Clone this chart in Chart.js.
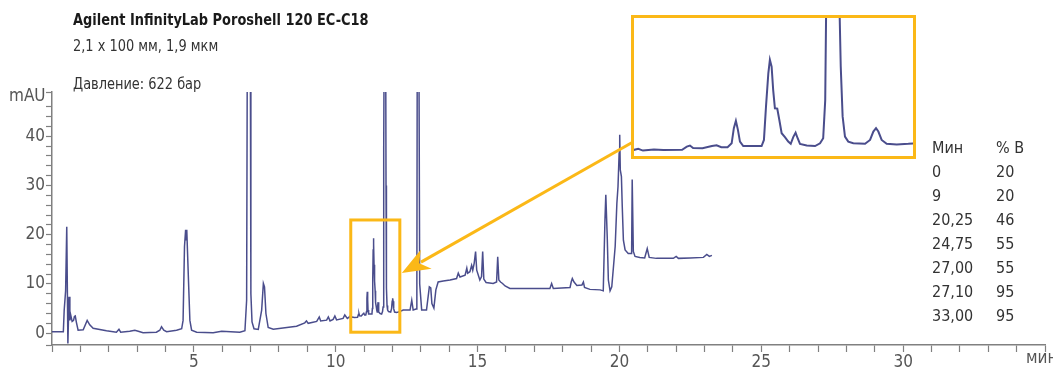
<!DOCTYPE html>
<html>
<head>
<meta charset="utf-8">
<script src="https://cdn.jsdelivr.net/npm/chart.js@4.4.1/dist/chart.umd.min.js"></script>
<style>
  html, body { margin: 0; padding: 0; background: #fff; }
  #wrap { position: relative; width: 1053px; height: 373px; overflow: hidden; }
  #main { position: absolute; left: 0; top: 0; }
  .txt { position: absolute; white-space: nowrap; color: #333; font-family: 'Liberation Sans Narrow', 'DejaVu Sans Condensed', 'Roboto Condensed', sans-serif; font-size: 16px; line-height: 1; }
  .head { transform: scaleX(0.9); transform-origin: 0 0; }
  .title { font-weight: bold; color: #1a1a1a; }
  #inset { position: absolute; left: 631px; top: 15px; width: 285px; height: 144px; box-sizing: border-box; border: 3px solid #fbb817; }
  #zoom { position: absolute; left: 0; top: 0; }
</style>
</head>
<body>
<div id="wrap">
  <canvas id="main" width="1053" height="373"></canvas>
  <div class="txt head title" style="left:73px;top:12px;">Agilent InfinityLab Poroshell 120 EC-C18</div>
  <div class="txt head" style="left:73px;top:38px;">2,1 x 100 мм, 1,9 мкм</div>
  <div class="txt head" style="left:73px;top:76px;">Давление: 622 бар</div>
  <div class="txt" style="left:9px;top:87px;color:#555;font-size:17px;">mAU</div>
  <div class="txt" style="left:1026px;top:349px;color:#555;font-size:17px;">мин</div>
  <div id="inset"><canvas id="zoom" width="279" height="138"></canvas></div>
  <div id="table"></div>
</div>
<script>
// retention time (min) and absorbance (mAU)
const timeMin = [
  0.00, 0.40, 0.43, 0.48, 0.52, 0.56, 0.60, 0.63, 0.66, 0.71, 0.76, 0.79, 0.82, 0.86, 0.92,
  1.10, 1.24, 1.33, 1.45, 1.92, 2.27, 2.36, 2.42, 2.74, 2.92, 3.04, 3.21, 3.68, 3.80, 3.86,
  3.94, 4.04, 4.39, 4.57, 4.62, 4.67, 4.71, 4.73, 4.75, 4.81, 4.86, 4.92, 5.10, 5.68, 5.98,
  6.62, 6.80, 6.86, 6.885, 6.99, 7.01, 7.05, 7.12, 7.27, 7.39, 7.45, 7.49, 7.54, 7.62, 7.80,
  8.62, 8.91, 8.97, 9.03, 9.33, 9.42, 9.47, 9.68, 9.74, 9.80, 9.91, 9.97, 10.03, 10.26, 10.32,
  10.41, 10.46, 10.49, 10.52, 10.59, 10.65, 10.77, 10.80, 10.82, 10.84, 10.90, 10.96, 10.99, 11.02, 11.06,
  11.086, 11.10, 11.113, 11.126, 11.139, 11.16, 11.224, 11.277, 11.292, 11.305, 11.32, 11.33, 11.341, 11.351, 11.362,
  11.377, 11.39, 11.405, 11.426, 11.447, 11.463, 11.479, 11.494, 11.507, 11.522, 11.565, 11.618, 11.65, 11.67, 11.683,
  11.692, 11.70, 11.71, 11.76, 11.773, 11.782, 11.794, 11.809, 11.83, 11.862, 11.937, 11.969, 11.99, 12.007, 12.022,
  12.043, 12.075, 12.139, 12.213, 12.38, 12.62, 12.68, 12.73, 12.83, 12.86, 12.875, 12.93, 12.96, 13.03, 13.20,
  13.30, 13.35, 13.39, 13.46, 13.53, 13.61, 13.79, 14.03, 14.26, 14.32, 14.38, 14.56, 14.62, 14.65, 14.73,
  14.79, 14.83, 14.88, 14.93, 14.97, 15.08, 15.14, 15.18, 15.22, 15.30, 15.55, 15.67, 15.71, 15.75, 15.81,
  15.88, 15.97, 16.14, 16.85, 17.55, 17.61, 17.67, 18.26, 18.30, 18.34, 18.40, 18.50, 18.68, 18.73, 18.77,
  18.96, 19.32, 19.43, 19.49, 19.52, 19.57, 19.61, 19.67, 19.73, 19.79, 19.85, 19.91, 19.95, 19.99, 20.01,
  20.03, 20.07, 20.10, 20.14, 20.20, 20.31, 20.43, 20.45, 20.49, 20.55, 20.72, 20.89, 20.98, 21.05, 21.30,
  21.90, 22.00, 22.08, 22.49, 22.96, 23.08, 23.17, 23.26
];
const mAU = [
  0.3, 0.3, 4.7, 8.6, 21.6, -2.1, 7.4, 2.6, 3.7, 2.4, 2.6, 3.4, 3.5, 2.2, 0.6,
  0.7, 2.6, 1.7, 1.0, 0.5, 0.2, 0.8, 0.2, 0.4, 0.6, 0.4, 0.1, 0.2, 0.6, 1.3,
  0.6, 0.3, 0.6, 0.9, 2.6, 17.6, 21.0, 19.0, 21.0, 10.8, 2.6, 0.6, 0.2, 0.1, 0.4,
  0.2, 0.5, 6.7, 60, 60, 8.0, 2.3, 0.9, 0.75, 4.7, 10.1, 9.4, 4.0, 1.15, 0.8,
  1.4, 2.1, 2.5, 2.0, 2.4, 3.3, 2.5, 2.65, 3.3, 2.5, 2.8, 3.5, 2.7, 3.0, 3.7,
  3.0, 3.2, 3.4, 3.1, 3.3, 3.2, 3.25, 3.8, 4.0, 3.55, 3.5, 3.9, 4.05, 3.7, 3.7,
  4.4, 7.1, 8.4, 6.8, 4.7, 3.9, 3.9, 3.9, 5.0, 10.9, 16.9, 19.3, 18.1, 13.9, 10.65,
  10.6, 8.6, 6.2, 5.5, 4.7, 4.3, 5.5, 6.3, 5.3, 4.3, 4.0, 3.9, 4.4, 5.3, 12.1,
  37, 37.5, 62, 62, 30, 18.1, 9.2, 5.6, 4.7, 4.4, 4.3, 5.0, 6.5, 7.1, 6.5,
  5.0, 4.3, 4.2, 4.3, 4.7, 4.7, 6.7, 4.7, 4.9, 8.0, 62, 62, 10, 4.7, 4.7,
  9.4, 9.2, 6.0, 5.1, 8.8, 10.4, 10.6, 10.8, 11.1, 12.2, 11.4, 11.8, 13.2, 12.2, 12.5,
  13.8, 12.8, 14.2, 16.6, 12.8, 10.8, 11.5, 16.6, 11.0, 10.3, 10.1, 10.4, 15.5, 10.8, 10.4,
  10.1, 9.6, 9.1, 9.1, 9.1, 10.1, 9.1, 9.3, 10.4, 11.1, 10.4, 9.7, 9.8, 10.4, 9.3,
  8.9, 8.8, 8.6, 23.0, 28.1, 19.6, 10.8, 8.6, 9.4, 13.5, 17.6, 26.4, 29.8, 36.6, 40.3,
  33.2, 31.8, 25.7, 18.9, 16.9, 16.2, 16.2, 31.2, 16.6, 15.6, 15.4, 15.3, 17.2, 15.4, 15.2,
  15.2, 15.6, 15.2, 15.3, 15.4, 16.0, 15.6, 15.8
];

// gradient table
const gradMin = ['0', '9', '20,25', '24,75', '27,00', '27,10', '33,00'];
const gradB = [20, 20, 46, 55, 55, 95, 95];

// zoomed window (min, mAU)
const zoomX = [10.53, 12.26];
const zoomY = [0.2, 23];
const insetX = [10.463, 12.243];
const insetY = [2.13, 26.77];

const FONT = "'Liberation Sans Narrow', 'DejaVu Sans Condensed', 'Roboto Condensed', sans-serif";
const LINE = '#4a4d8c';
const ORANGE = '#fbb817';
const AXIS = '#808080';

const points = timeMin.map((t, i) => ({ x: t, y: mAU[i] }));

// table
const tbl = document.getElementById('table');
function addTxt(s, x, y) {
  const d = document.createElement('div');
  d.className = 'txt';
  d.style.left = x + 'px';
  d.style.top = y + 'px';
  d.textContent = s;
  tbl.appendChild(d);
}
addTxt('Мин', 932, 140);
addTxt('% B', 996, 140);
gradMin.forEach((m, i) => {
  addTxt(m, 932, 164 + i * 24);
  addTxt(String(gradB[i]), 996, 164 + i * 24);
});

const zoomBox = {
  id: 'zoomBox',
  afterDatasetsDraw(chart) {
    const { ctx, scales: { x, y } } = chart;
    const x0 = x.getPixelForValue(zoomX[0]), x1 = x.getPixelForValue(zoomX[1]);
    const y0 = y.getPixelForValue(zoomY[1]), y1 = y.getPixelForValue(zoomY[0]);
    ctx.save();
    ctx.strokeStyle = ORANGE;
    ctx.lineWidth = 3;
    ctx.strokeRect(x0, y0, x1 - x0, y1 - y0);

    // arrow from inset to the zoom box
    const tx = x1 + 2, ty = 273, sx = 633, sy = 142;
    const len = Math.hypot(sx - tx, sy - ty);
    const ux = (sx - tx) / len, uy = (sy - ty) / len;
    const bx = tx + ux * 24, by = ty + uy * 24;
    ctx.beginPath();
    ctx.moveTo(sx, sy);
    ctx.lineTo(bx - ux * 2, by - uy * 2);
    ctx.stroke();
    ctx.fillStyle = ORANGE;
    ctx.beginPath();
    ctx.moveTo(tx, ty);
    ctx.lineTo(bx - uy * 11 + ux * 4, by + ux * 11 + uy * 4);
    ctx.lineTo(bx - ux * 4, by - uy * 4);
    ctx.lineTo(bx + uy * 11 + ux * 4, by - ux * 11 + uy * 4);
    ctx.closePath();
    ctx.fill();
    ctx.restore();
  }
};

new Chart(document.getElementById('main').getContext('2d'), {
  type: 'line',
  data: {
    datasets: [{
      data: points,
      borderColor: LINE,
      borderWidth: 1.5,
      pointRadius: 0,
      tension: 0,
      fill: false
    }]
  },
  options: {
    responsive: false,
    animation: false,
    layout: { padding: { top: 92, right: 8, left: 0, bottom: 0 } },
    plugins: { legend: { display: false }, tooltip: { enabled: false } },
    scales: {
      x: {
        type: 'linear',
        min: 0,
        max: 35,
        border: { color: AXIS, width: 1.5 },
        grid: { drawOnChartArea: false, tickLength: 7, color: AXIS, tickWidth: 1.2 },
        ticks: {
          stepSize: 1,
          autoSkip: false,
          maxRotation: 0,
          padding: 0,
          color: '#555',
          font: { family: FONT, size: 17 },
          callback: v => (v > 0 && v % 5 === 0 && v < 35) ? String(v) : ''
        },
        afterFit: s => { s.height = 28; }
      },
      y: {
        min: -2.4,
        max: 49,
        border: { color: AXIS, width: 1.5 },
        grid: { drawOnChartArea: false, tickLength: 6, color: AXIS, tickWidth: 1.2 },
        ticks: {
          stepSize: 2,
          autoSkip: false,
          padding: 1,
          color: '#555',
          font: { family: FONT, size: 17 },
          callback: v => (v >= 0 && v % 10 === 0) ? String(v) : ''
        },
        afterFit: s => { s.width = 52; }
      }
    }
  },
  plugins: [zoomBox]
});

new Chart(document.getElementById('zoom').getContext('2d'), {
  type: 'line',
  data: {
    datasets: [{
      data: points,
      borderColor: LINE,
      borderWidth: 2,
      pointRadius: 0,
      tension: 0,
      fill: false
    }]
  },
  options: {
    responsive: false,
    animation: false,
    layout: { padding: 0 },
    plugins: { legend: { display: false }, tooltip: { enabled: false } },
    scales: {
      x: { type: 'linear', display: false, min: insetX[0], max: insetX[1] },
      y: { display: false, min: insetY[0], max: insetY[1] }
    }
  }
});
</script>
</body>
</html>
